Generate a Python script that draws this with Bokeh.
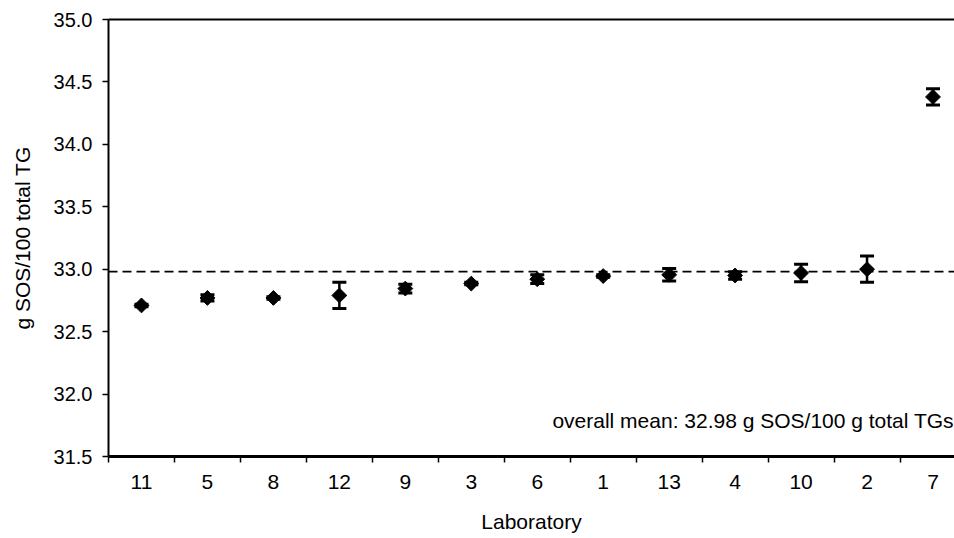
import numpy as np
from bokeh.plotting import figure
from bokeh.models import (ColumnDataSource, FixedTicker, LinearAxis, Span, Whisker,
                          TeeHead, Label, Range1d, NumeralTickFormatter)
from bokeh.embed import file_html
from bokeh.resources import INLINE

labs = ["11", "5", "8", "12", "9", "3", "6", "1", "13", "4", "10", "2", "7"]
means = [32.71, 32.77, 32.77, 32.79, 32.845, 32.885, 32.92, 32.945, 32.955, 32.95, 32.97, 33.00, 34.38]
errs = [0.01, 0.025, 0.01, 0.105, 0.035, 0.01, 0.035, 0.01, 0.05, 0.03, 0.07, 0.105, 0.065]
overall_mean = 32.98
y_ticks = [31.5, 32.0, 32.5, 33.0, 33.5, 34.0, 34.5, 35.0]

xs = list(range(len(labs)))
src = ColumnDataSource(dict(
    x=xs, y=means,
    lo=[m - e for m, e in zip(means, errs)],
    hi=[m + e for m, e in zip(means, errs)],
))

FONT = "Liberation Sans"

p = figure(width=954, height=538, output_backend="svg", toolbar_location=None,
           x_range=Range1d(-0.5, 12.326), y_range=Range1d(31.5, 35.0),
           min_border_left=108, min_border_top=19, min_border_bottom=82,
           min_border_right=0)
p.outline_line_color = None
p.grid.grid_line_color = None
p.background_fill_color = "white"
p.border_fill_color = "white"

# X axis
xa = p.xaxis[0]
xa.ticker = FixedTicker(ticks=xs, minor_ticks=[i - 0.5 for i in range(len(labs) + 1)])
xa.major_label_overrides = {i: l for i, l in enumerate(labs)}
xa.major_tick_out = 0
xa.major_tick_in = 0
xa.minor_tick_out = 6
xa.minor_tick_in = 0
xa.minor_tick_line_width = 1.5
xa.minor_tick_line_color = "black"
xa.axis_line_width = 3
xa.axis_line_color = "black"
xa.major_label_standoff = 12
xa.major_label_text_font = FONT
xa.major_label_text_font_size = "21px"
xa.major_label_text_color = "black"
xa.axis_label = "Laboratory"
xa.axis_label_text_font = FONT
xa.axis_label_text_font_size = "21px"
xa.axis_label_text_font_style = "normal"
xa.axis_label_text_color = "black"
xa.axis_label_standoff = 18

# Y axis
ya = p.yaxis[0]
ya.ticker = FixedTicker(ticks=y_ticks)
ya.formatter = NumeralTickFormatter(format="0.0")
ya.major_tick_out = 6
ya.major_tick_in = 0
ya.major_tick_line_width = 1.5
ya.minor_tick_line_color = None
ya.axis_line_width = 2
ya.axis_line_color = "black"
ya.major_label_standoff = 10
ya.major_label_text_font = FONT
ya.major_label_text_font_size = "20px"
ya.major_label_text_color = "black"
ya.axis_label = "g SOS/100 total TG"
ya.axis_label_text_font = FONT
ya.axis_label_text_font_size = "21px"
ya.axis_label_text_font_style = "normal"
ya.axis_label_text_color = "black"
ya.axis_label_standoff = 17

# top border line
top = LinearAxis(ticker=FixedTicker(ticks=[]), major_label_text_font_size="0px",
                 major_tick_line_color=None, minor_tick_line_color=None,
                 axis_line_width=2, axis_line_color="black")
p.add_layout(top, "above")

# mean line
p.add_layout(Span(location=overall_mean, dimension="width", line_color="black",
                  line_width=1.8, line_dash="9 5"))

# error bars
w = Whisker(source=src, base="x", lower="lo", upper="hi", line_width=2.5, line_color="black",
            upper_head=TeeHead(size=14, line_width=3, line_color="black"),
            lower_head=TeeHead(size=14, line_width=3, line_color="black"))
p.add_layout(w)

p.scatter("x", "y", source=src, marker="square", angle=np.pi / 4, size=10.5,
          fill_color="black", line_color="black")

p.add_layout(Label(x=6.23, y=31.79, text="overall mean: 32.98 g SOS/100 g total TGs",
                   text_font=FONT, text_font_size="21px", text_color="black",
                   text_baseline="alphabetic"))

open("out.html", "w").write(file_html(p, INLINE))
